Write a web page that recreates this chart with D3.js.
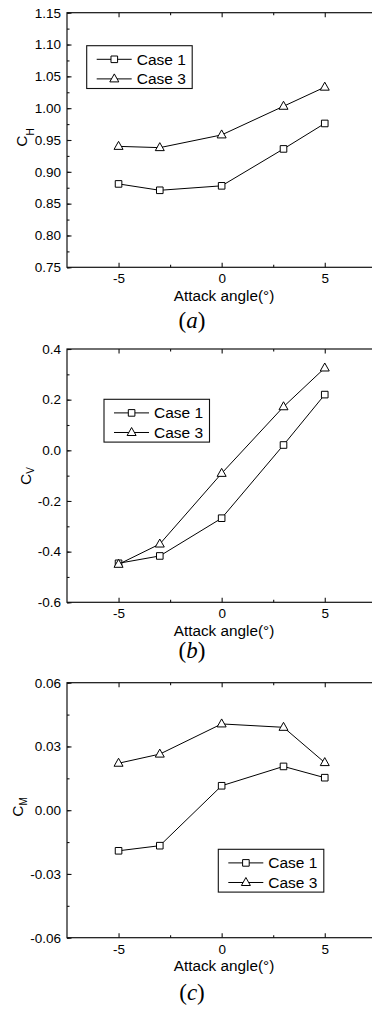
<!DOCTYPE html>
<html>
<head>
<meta charset="utf-8">
<script src="https://cdn.jsdelivr.net/npm/d3@7"></script>
<style>
  body { margin: 0; background: #fff; }
  svg { display: block; }
  text { font-family: "Liberation Sans", Arial, sans-serif; fill: #000; }
  .cap { font-family: "Liberation Serif", "Times New Roman", serif; }
</style>
</head>
<body>
<div id="chart"></div>
<script>
// values
const angles = [-5, -3, 0, 3, 5];
const seriesNames = ['Case 1', 'Case 3'];

const cH1 = [0.881, 0.871, 0.878, 0.936, 0.976];
const cH3 = [0.940, 0.938, 0.958, 1.003, 1.033];
const cV1 = [-0.446, -0.417, -0.268, 0.021, 0.220];
const cV3 = [-0.450, -0.370, -0.091, 0.172, 0.325];
const cM1 = [-0.0191, -0.0167, 0.0115, 0.0206, 0.0153];
const cM3 = [0.0221, 0.0264, 0.0406, 0.0390, 0.0224];

const xTicks = [-5, 0, 5];
const xMinor = [-2.5, 2.5];
const hTicks = [0.75, 0.80, 0.85, 0.90, 0.95, 1.00, 1.05, 1.10, 1.15];
const vTicks = [-0.6, -0.4, -0.2, 0.0, 0.2, 0.4];
const mTicks = [-0.06, -0.03, 0.00, 0.03, 0.06];

const W = 372, H = 1009;
const svg = d3.select('#chart').append('svg')
  .attr('width', W).attr('height', H);

const loc = d3.formatLocale({ decimal: '.', thousands: ',', grouping: [3], currency: ['', ''], minus: '-' });

const panels = [
  { top: 12.7, bottom: 267.3, dom: [0.75, 1.15], ticks: hTicks, step: 0.025, fmt: '.2f',
    s1: cH1, s3: cH3, sub: 'H', lab: { x: 27, y: 146.7, dy: 7 }, cap: '(a)', capY: 60.7,
    leg: { x: 86.7, y: 45.7 } },
  { top: 349, bottom: 602.3, dom: [-0.6, 0.4], ticks: vTicks, step: 0.1, fmt: '.1f',
    s1: cV1, s3: cV3, sub: 'V', lab: { x: 31, y: 485, dy: 3 }, cap: '(b)', capY: 55.7,
    leg: { x: 104, y: 399.3 } },
  { top: 682.7, bottom: 937.7, dom: [-0.06, 0.06], ticks: mTicks, step: 0.015, fmt: '.2f',
    s1: cM1, s3: cM3, sub: 'M', lab: { x: 23, y: 816.7, dy: 4 }, cap: '(c)', capY: 62.3,
    leg: { x: 218.3, y: 849.3 } }
];

const left = 67, right = 376.3;
const x = d3.scaleLinear().domain([-7.5, 7.5]).range([left, right]);

const tri = 'M0,-5L4.5,3L-4.5,3Z';
const sq = 'M-3.3,-3.3H3.3V3.3H-3.3Z';

panels.forEach(p => {
  const y = d3.scaleLinear().domain(p.dom).range([p.bottom, p.top]);
  const g = svg.append('g');
  const minor = d3.range(p.dom[0], p.dom[1] + 1e-9, p.step);

  // frame
  g.append('rect')
    .attr('x', left).attr('y', p.top)
    .attr('width', right - left).attr('height', p.bottom - p.top)
    .attr('fill', 'none').attr('stroke', '#111').attr('stroke-width', 1.2);

  // left axis
  g.append('g').attr('transform', `translate(${left},0)`)
    .call(d3.axisLeft(y).tickValues(p.ticks).tickSize(-4.5).tickPadding(6)
      .tickFormat(loc.format(p.fmt)));
  g.append('g').attr('transform', `translate(${left},0)`)
    .call(d3.axisLeft(y).tickValues(minor).tickSize(-2.5).tickFormat(''));

  // bottom axis
  const xAx = g.append('g').attr('transform', `translate(0,${p.bottom})`)
    .call(d3.axisBottom(x).tickValues(xTicks).tickSize(-4.5).tickPadding(6.5)
      .tickFormat(loc.format('d')));
  g.append('g').attr('transform', `translate(0,${p.bottom})`)
    .call(d3.axisBottom(x).tickValues(xMinor).tickSize(-2.5).tickFormat(''));

  // top axis
  g.append('g').attr('transform', `translate(0,${p.top})`)
    .call(d3.axisTop(x).tickValues(xTicks).tickSize(-4.5).tickFormat(''));
  g.append('g').attr('transform', `translate(0,${p.top})`)
    .call(d3.axisTop(x).tickValues(xMinor).tickSize(-2.5).tickFormat(''));

  g.selectAll('.domain').remove();
  g.selectAll('.tick line').attr('stroke', '#111').attr('stroke-width', 1.1);
  g.selectAll('.tick text').attr('font-size', 13.5).attr('fill', '#000')
    .attr('font-family', '"Liberation Sans", Arial, sans-serif');
  xAx.selectAll('.tick text').attr('dy', '0.71em');

  // y title C with subscript
  const t = g.append('text')
    .attr('transform', `translate(${p.lab.x},${p.lab.y}) rotate(-90)`)
    .attr('font-size', 15.5);
  t.append('tspan').text('C');
  t.append('tspan').attr('font-size', 10).attr('dy', p.lab.dy).text(p.sub);

  // x title
  g.append('text')
    .attr('x', 224).attr('y', p.bottom + 33.5)
    .attr('text-anchor', 'middle').attr('font-size', 15.3)
    .text('Attack angle(°)');

  // caption
  const c = g.append('text').attr('class', 'cap')
    .attr('x', 192).attr('y', p.bottom + p.capY)
    .attr('text-anchor', 'middle').attr('font-size', 23);
  c.append('tspan').text('(');
  c.append('tspan').attr('font-style', 'italic').text(p.cap[1]);
  c.append('tspan').text(')');

  // lines and markers
  const line = d3.line().x((d, i) => x(angles[i])).y(d => y(d));
  [[p.s1, sq], [p.s3, tri]].forEach(([vals, shape]) => {
    g.append('path').datum(vals).attr('d', line)
      .attr('fill', 'none').attr('stroke', '#000').attr('stroke-width', 1);
    g.selectAll(null).data(vals).enter().append('path')
      .attr('d', shape)
      .attr('transform', (d, i) => `translate(${x(angles[i])},${y(d)})`)
      .attr('fill', '#fff').attr('stroke', '#000').attr('stroke-width', 1);
  });

  // legend
  const lg = g.append('g').attr('transform', `translate(${p.leg.x},${p.leg.y})`);
  lg.append('rect').attr('width', 105.5).attr('height', 42.8)
    .attr('fill', '#fff').attr('stroke', '#111').attr('stroke-width', 1.1);
  [sq, tri].forEach((shape, i) => {
    const cy = 13.6 + i * 19.6;
    lg.append('line').attr('x1', 10).attr('x2', 45).attr('y1', cy).attr('y2', cy)
      .attr('stroke', '#000').attr('stroke-width', 1);
    lg.append('path').attr('d', shape).attr('transform', `translate(27.6,${cy})`)
      .attr('fill', '#fff').attr('stroke', '#000');
    lg.append('text').attr('x', 50).attr('y', cy + 5.6)
      .attr('font-size', 15.5).text(seriesNames[i]);
  });
});
</script>
</body>
</html>
